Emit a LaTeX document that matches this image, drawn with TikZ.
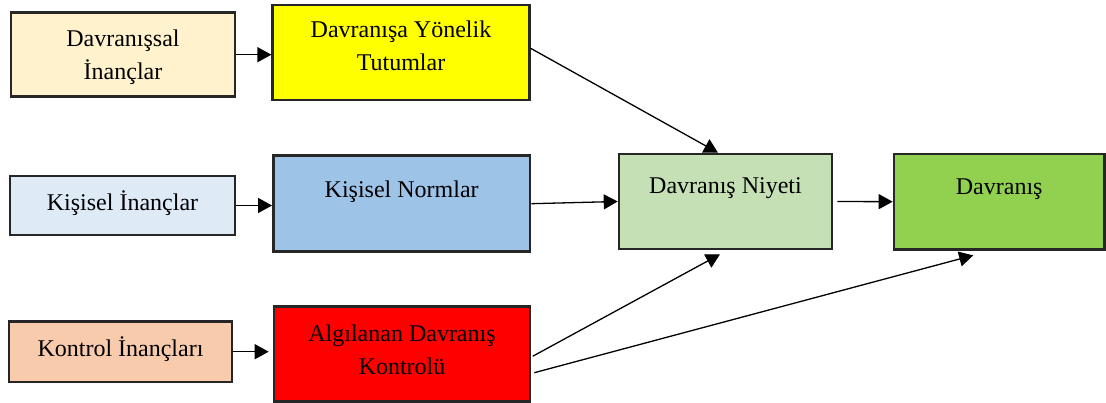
\documentclass[tikz,border=0pt]{standalone}
\usepackage{fontspec}
\setmainfont{Liberation Serif}
\usetikzlibrary{arrows.meta}
\definecolor{cBelief}{HTML}{FFF2CC}
\definecolor{cAtt}{HTML}{FFFF00}
\definecolor{cNormB}{HTML}{DEEBF7}
\definecolor{cNorm}{HTML}{9DC3E6}
\definecolor{cCtrlB}{HTML}{F8CBAD}
\definecolor{cCtrl}{HTML}{FF0000}
\definecolor{cInt}{HTML}{C5E0B4}
\definecolor{cBeh}{HTML}{92D050}
\begin{document}
\begin{tikzpicture}[x=1pt,y=-1pt,
  box/.style={draw=black!85, line width=2.6pt, inner sep=0pt},
  lbl/.style={align=center, inner sep=0pt, text=black,
    font=\fontsize{24}{33}\selectfont},
  conn/.style={line width=1.3pt, -{Triangle[length=14pt,width=15pt]}}]
\useasboundingbox (0,0) rectangle (1106,403);

% left column
\node[box, fill=cBelief, minimum width=224pt, minimum height=84pt,
  label={[lbl, yshift=-2.8pt]center:Davranışsal\\İnançlar}] (bb) at (123,54.7) {};
\node[box, fill=cNormB, minimum width=225pt, minimum height=59pt,
  label={[lbl, yshift=2pt]center:Kişisel İnançlar}] (pb) at (122.5,205.5) {};
\node[box, fill=cCtrlB, minimum width=223pt, minimum height=60.5pt,
  label={[lbl, yshift=3pt]center:Kontrol İnançları}] (cb) at (120.5,351.7) {};

% middle column
\node[box, fill=cAtt, minimum width=256.6pt, minimum height=95pt,
  label={[lbl, yshift=6.8pt]center:Davranışa Yönelik\\Tutumlar}] (att) at (401,52.5) {};
\node[box, fill=cNorm, minimum width=256.7pt, minimum height=96pt,
  label={[lbl, yshift=12pt]center:Kişisel Normlar}] (nrm) at (401.7,203.7) {};
\node[box, fill=cCtrl, minimum width=256pt, minimum height=95pt,
  label={[lbl, yshift=4pt]center:Algılanan Davranış\\Kontrolü}] (pbc) at (402,354.2) {};

% right column
\node[box, fill=cInt, minimum width=213pt, minimum height=95pt,
  label={[lbl, yshift=13pt]center:Davranış Niyeti}] (int) at (725.5,201.5) {};
\node[box, fill=cBeh, minimum width=210.5pt, minimum height=95.3pt,
  label={[lbl, yshift=13pt]center:Davranış}] (beh) at (999.2,201.7) {};

% connectors
\draw[conn] (bb.east) -- (bb.east -| att.west);
\draw[conn] (pb.east) -- (pb.east -| nrm.west);
\draw[conn, shorten >=4pt] (cb.east) -- (cb.east -| pbc.west);
\draw[conn] ([yshift=4.2pt]att.east) -- ([xshift=-7.5pt]int.north);
\draw[conn] (nrm.east) -- (int.west);
\draw[conn, shorten <=4pt] (int.east) -- (beh.west);
\draw[conn] ([xshift=1.5pt, yshift=-2pt]pbc.east) -- ([xshift=-5.5pt, yshift=-4pt]int.south);
\draw[conn] ([xshift=3pt, yshift=-18.5pt]pbc.east) -- ([xshift=-26pt, yshift=-4.7pt]beh.south);
\end{tikzpicture}
\end{document}
